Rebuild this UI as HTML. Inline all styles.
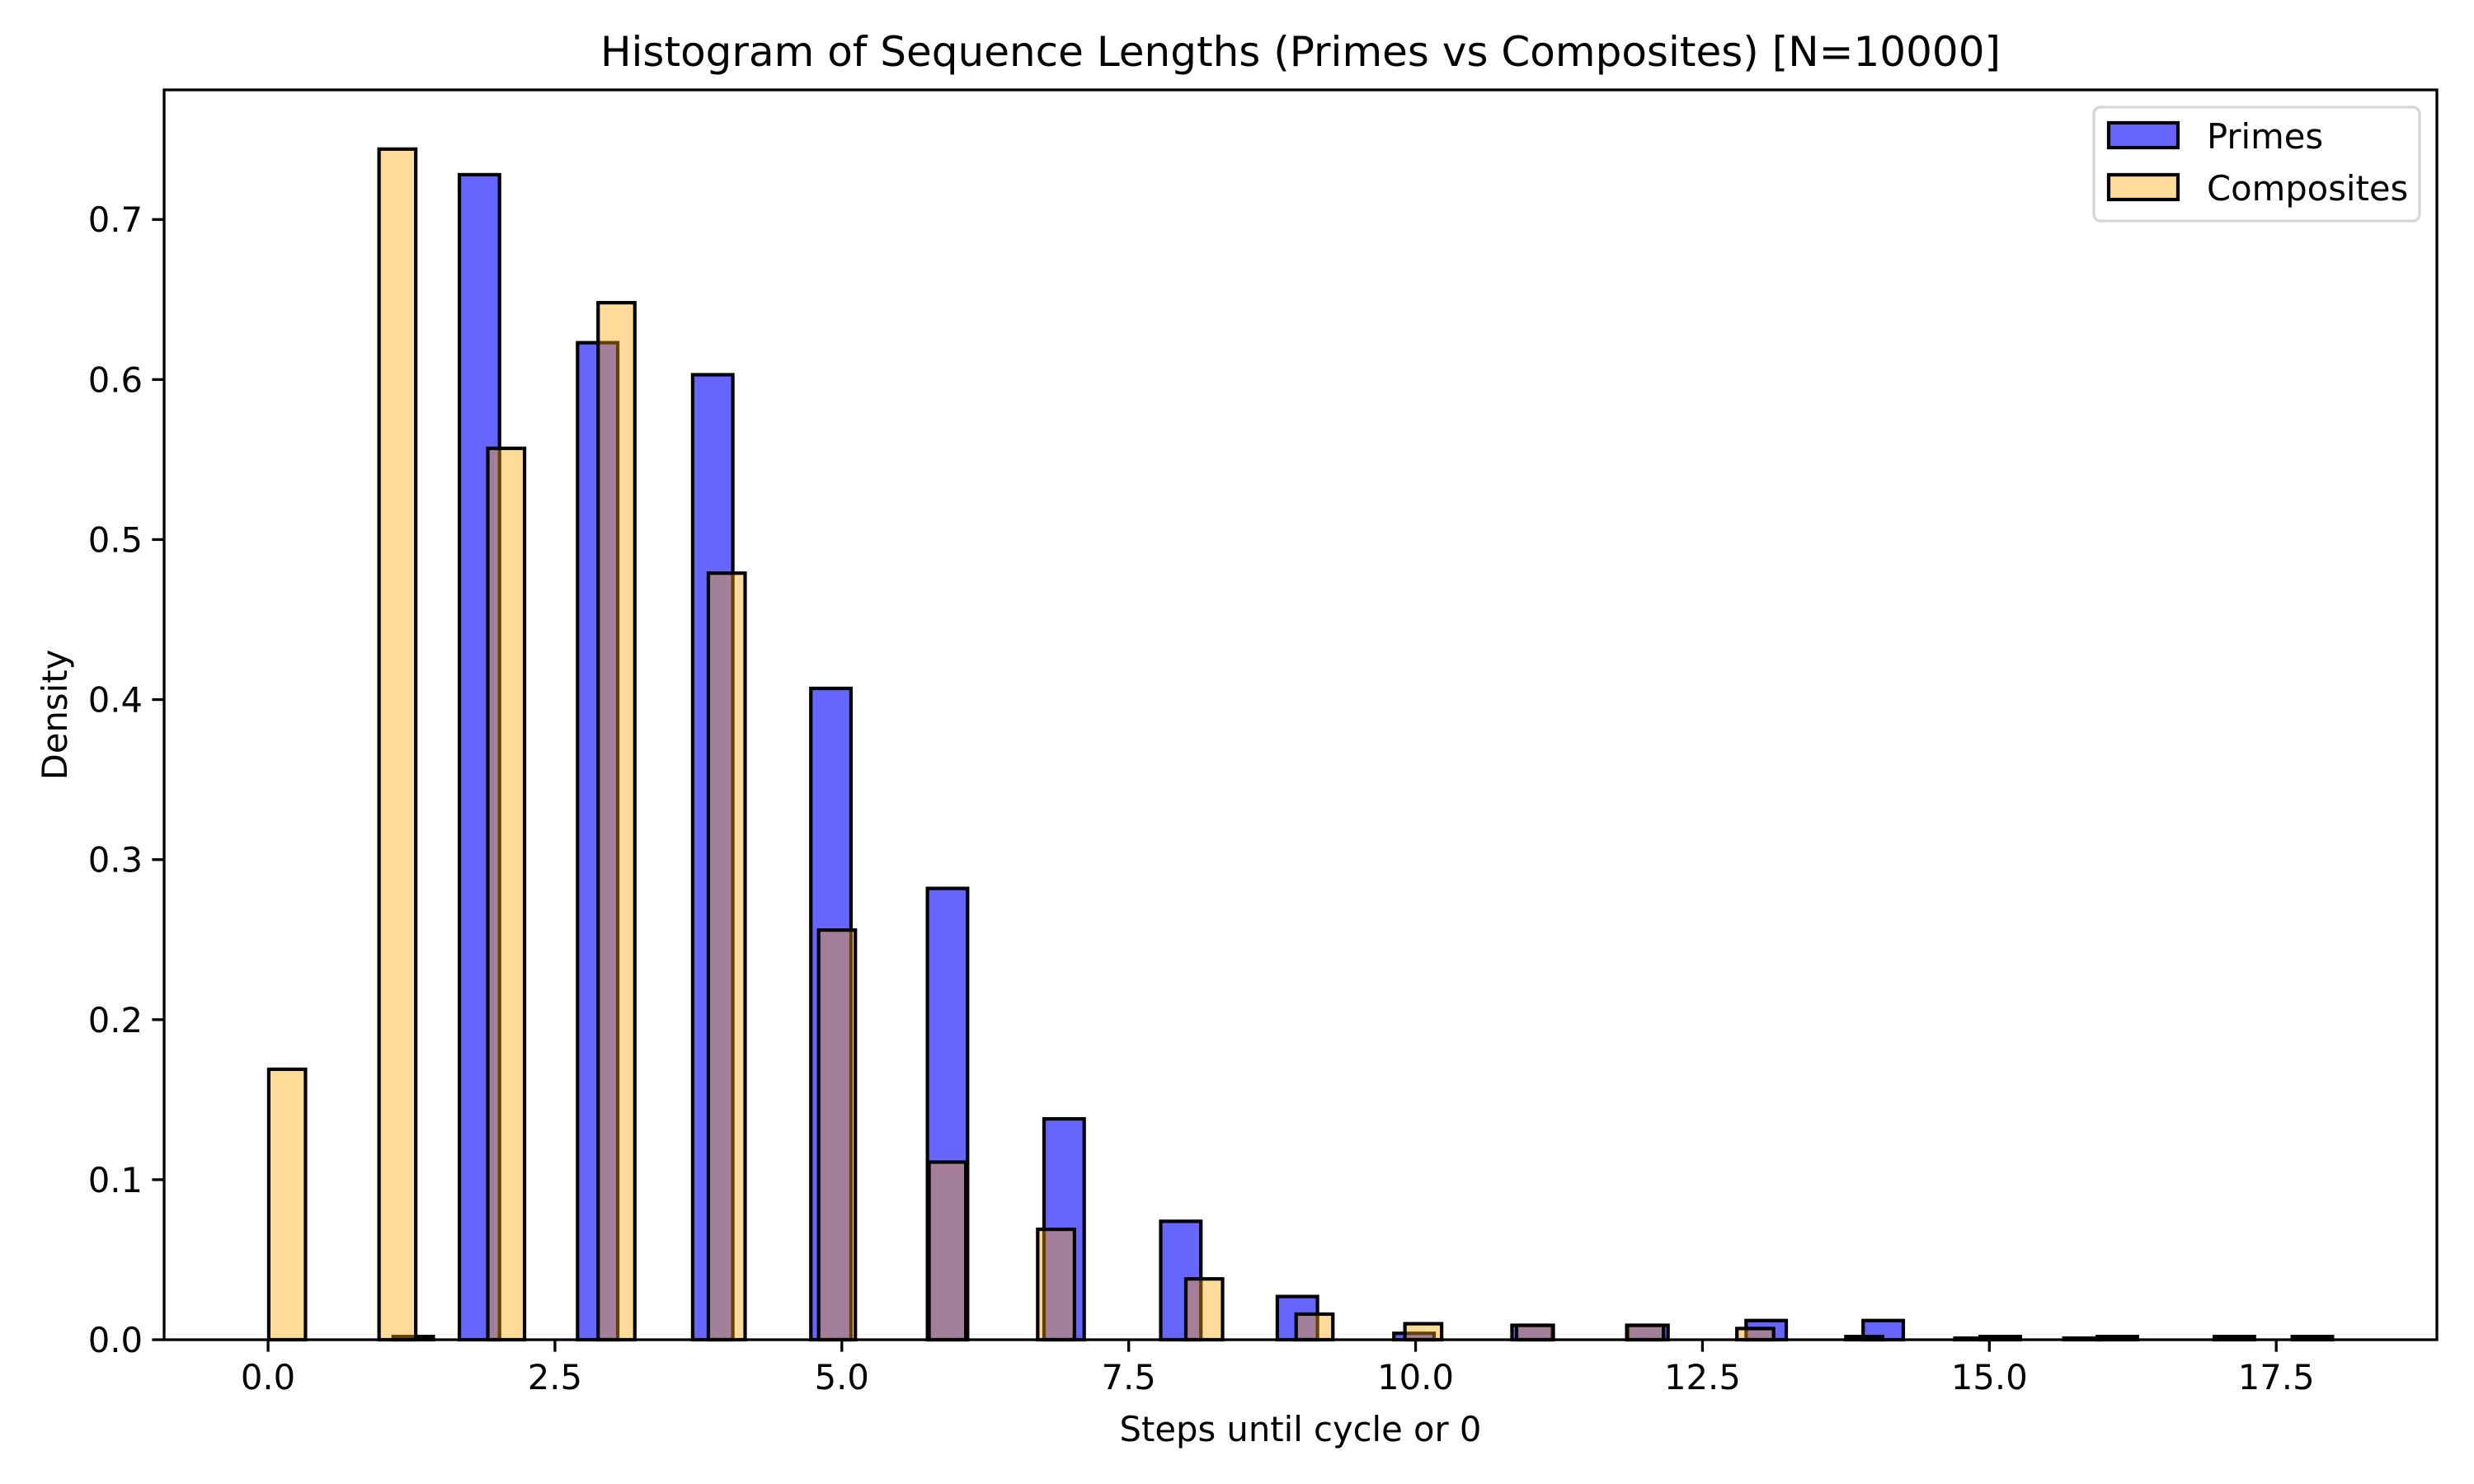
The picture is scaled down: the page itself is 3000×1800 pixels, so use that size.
<!DOCTYPE html>
<html><head><meta charset="utf-8"><style>
html,body{margin:0;padding:0;background:#fff;}
svg{display:block;font-family:"DejaVu Sans","Liberation Sans",sans-serif;}
</style></head><body>
<svg id="chart" width="3000" height="1800" viewBox="0 0 3000 1800" xmlns="http://www.w3.org/2000/svg">
<rect width="3000" height="1800" fill="#fff"/>
<g id="bars"></g>
<g id="axes"></g>
</svg>
<script>
// Primes: bin left edges (data units) and densities
const primeBinLeft = [1.667,2.697,3.700,4.730,5.746,6.762,7.779,8.795,9.811,10.84,11.85,12.88,13.90,14.92,15.94,16.96,17.64];
const primeDensity = [0.728,0.623,0.603,0.407,0.282,0.138,0.074,0.027,0.004,0.009,0.009,0.012,0.012,0.002,0.002,0.002,0.002];
const primeBinWidth = 0.35;
// Composites
const compBinLeft = [0.006,0.967,1.915,2.876,3.837,4.798,5.760,6.707,7.998,8.959,9.907,10.88,11.84,12.80,13.75,14.70,15.65];
const compDensity = [0.169,0.744,0.557,0.648,0.479,0.256,0.111,0.069,0.038,0.016,0.010,0.009,0.009,0.007,0.002,0.001,0.001];
const compBinWidth = 0.32;
// small primes bar near 1
const primeExtraLeft = [1.09];
const primeExtraDensity = [0.002];
const xTicks = [0,2.5,5,7.5,10,12.5,15,17.5];
const xTickLabels = ["0.0","2.5","5.0","7.5","10.0","12.5","15.0","17.5"];
const yTicks = [0,0.1,0.2,0.3,0.4,0.5,0.6,0.7];
const yTickLabels = ["0.0","0.1","0.2","0.3","0.4","0.5","0.6","0.7"];

const L=199,R=2955,T=109,B=1625;
const xMin=-0.906,xMax=18.90,yMax=0.781;
const xs=v=>L+(v-xMin)/(xMax-xMin)*(R-L);
const ys=v=>B-v/yMax*(B-T);
const NS="http://www.w3.org/2000/svg";
function mk(tag,attrs,parent){const e=document.createElementNS(NS,tag);for(const k in attrs)e.setAttribute(k,attrs[k]);parent.appendChild(e);return e;}
const bars=document.getElementById('bars'),axes=document.getElementById('axes');

function drawSeries(lefts,vals,w,fill,op,name){
  lefts.forEach((l,i)=>{
    const x0=xs(l),x1=xs(l+w),y=ys(vals[i]);
    const r=mk('rect',{x:x0,y:y,width:x1-x0,height:B-y,fill:fill,'fill-opacity':op,stroke:'#000','stroke-width':4.2},bars);
    
    
  });
}
drawSeries(primeBinLeft,primeDensity,primeBinWidth,'#0000ff',0.6,'primes');
drawSeries(primeExtraLeft,primeExtraDensity,primeBinWidth,'#0000ff',0.6,'primes-extra');
drawSeries(compBinLeft,compDensity,compBinWidth,'#ffa500',0.4,'composites');

const fr=mk('rect',{x:L,y:T,width:R-L,height:B-T,fill:'none',stroke:'#000','stroke-width':3.3},axes);


xTicks.forEach((t,i)=>{
  const x=xs(t);
  const ln=mk('line',{x1:x,x2:x,y1:B,y2:B+14.6,stroke:'#000','stroke-width':3.3},axes);
  
  
  const tx=mk('text',{x:x,y:B+60,'text-anchor':'middle','font-size':41.7},axes);
  tx.textContent=xTickLabels[i];
  
  
});
yTicks.forEach((t,i)=>{
  const y=ys(t);
  const ln=mk('line',{x1:L-14.6,x2:L,y1:y,y2:y,stroke:'#000','stroke-width':3.3},axes);
  
  
  const tx=mk('text',{x:L-26,y:y+15,'text-anchor':'end','font-size':41.7},axes);
  tx.textContent=yTickLabels[i];
  
  
});
</script>
<svg style="position:absolute;left:0;top:0" width="3000" height="1800" xmlns="http://www.w3.org/2000/svg">
<text x="1577" y="80" text-anchor="middle" font-size="50" font-family="DejaVu Sans, Liberation Sans, sans-serif">Histogram of Sequence Lengths (Primes vs Composites) [N=10000]</text>
<text x="1577" y="1748" text-anchor="middle" font-size="41.7" font-family="DejaVu Sans, Liberation Sans, sans-serif">Steps until cycle or 0</text>
<text transform="translate(81,867) rotate(-90)" text-anchor="middle" font-size="41.7" font-family="DejaVu Sans, Liberation Sans, sans-serif">Density</text>
<g>
<rect x="2539" y="130" width="395" height="138" rx="8" fill="#fff" fill-opacity="0.8" stroke="#d6d6d6" stroke-width="3.3"/>
<rect x="2557" y="149" width="84" height="30" fill="#6666ff" stroke="#000" stroke-width="4.2"/>
<text x="2676" y="180" font-size="41.7" font-family="DejaVu Sans, Liberation Sans, sans-serif">Primes</text>
<rect x="2557" y="212" width="84" height="30" fill="#ffdb99" stroke="#000" stroke-width="4.2"/>
<text x="2676" y="243" font-size="41.7" font-family="DejaVu Sans, Liberation Sans, sans-serif">Composites</text>
</g>
</svg>
</body></html>
